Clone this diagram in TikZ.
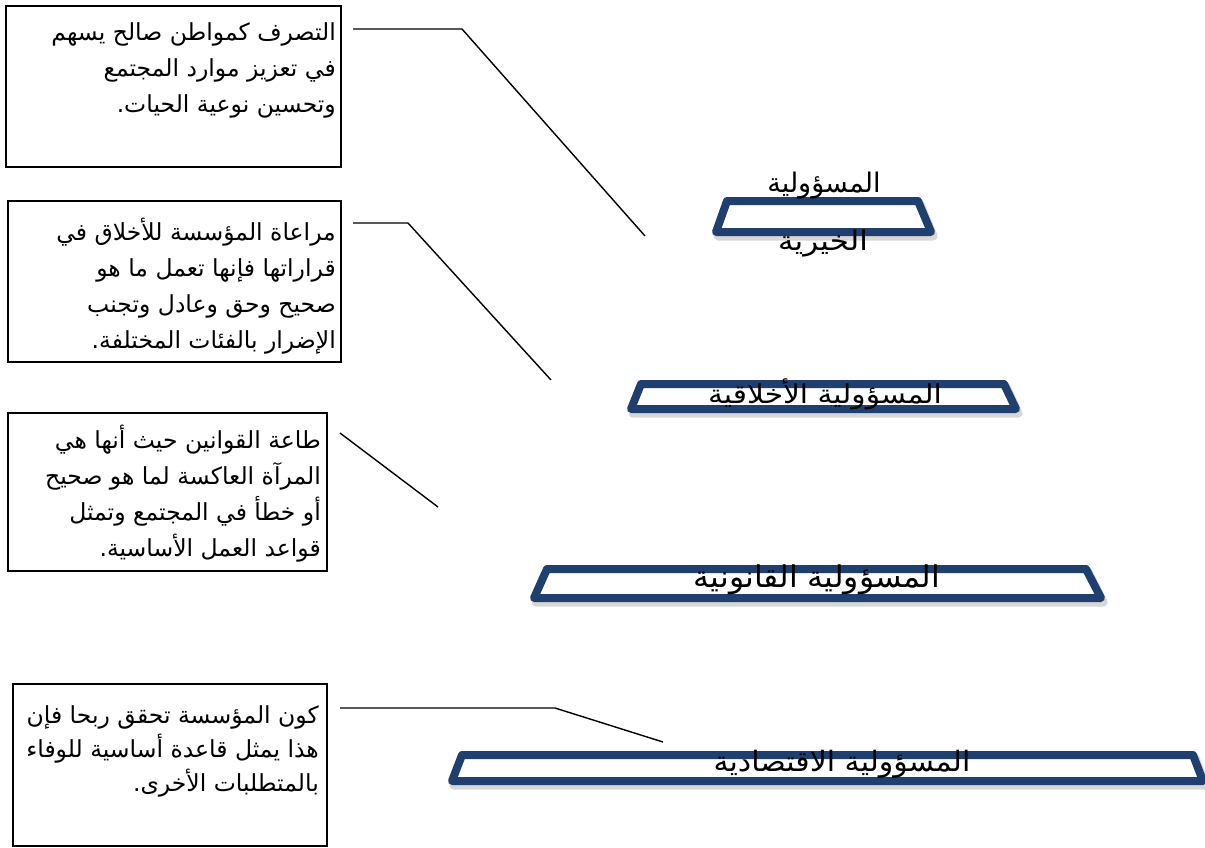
\documentclass[tikz,border=0pt]{standalone}
\usepackage{fontspec}
\TeXXeTstate=1
\newfontfamily\arabicfont[Script=Arabic]{DejaVu Sans}
\definecolor{trapblue}{HTML}{1F3F6E}
\tikzset{
  descbox/.style={draw=black, line width=1.8pt, minimum width=#1, anchor=north west, inner sep=0pt},
  desctext/.style={anchor=north east, align=right, inner sep=0pt, font=\arabicfont\fontsize{23.5}{36}\selectfont},
  lead/.style={draw=black, line width=1.4pt},
  trap/.style={draw=trapblue, line width=8pt, line join=round, fill=white},
  trapshadow/.style={draw=black!45, line width=9pt, line join=round, opacity=0.35},
  traptext/.style={font=\arabicfont\fontsize{#1}{#1}\selectfont, inner sep=0pt}
}
\begin{document}
\begin{tikzpicture}[x=1pt,y=-1pt]
\useasboundingbox (0,0) rectangle (1205,847);

% description boxes
\node[descbox=335, minimum height=161] (b1) at (5,5) {};
\node[descbox=333, minimum height=161] (b2) at (7,200) {};
\node[descbox=319, minimum height=158] (b3) at (7,412) {};
\node[descbox=314, minimum height=162] (b4) at (12,683) {};

\node[desctext] (t1) at (336,22) {\beginR التصرف كمواطن صالح يسهم\endR\\ \beginR في تعزيز موارد المجتمع\endR\\ \beginR وتحسين نوعية الحيات.\endR};
\node[desctext] (t2) at (336,218) {\beginR مراعاة المؤسسة للأخلاق في\endR\\ \beginR قراراتها فإنها تعمل ما هو\endR\\ \beginR صحيح وحق وعادل وتجنب\endR\\ \beginR الإضرار بالفئات المختلفة.\endR};
\node[desctext] (t3) at (321,425) {\beginR طاعة القوانين حيث أنها هي\endR\\ \beginR المرآة العاكسة لما هو صحيح\endR\\ \beginR أو خطأ في المجتمع وتمثل\endR\\ \beginR قواعد العمل الأساسية.\endR};
\node[desctext, font=\arabicfont\fontsize{23.5}{34}\selectfont] (t4) at (319,705) {\beginR كون المؤسسة تحقق ربحا فإن\endR\\ \beginR هذا يمثل قاعدة أساسية للوفاء\endR\\ \beginR بالمتطلبات الأخرى.\endR};

% trapezoids (shadow, then outline)
\draw[trapshadow] (729,204) -- (920,204) -- (933,236) -- (718,236) -- cycle;
\draw[trap] (727,201) -- (918,201) -- (931,232) -- (716,232) -- cycle;
\draw[trapshadow] (643,387) -- (1006,387) -- (1018,413) -- (633,413) -- cycle;
\draw[trap] (641,384) -- (1004,384) -- (1016,409) -- (631,409) -- cycle;
\draw[trapshadow] (549,572) -- (1088,572) -- (1103,602) -- (536,602) -- cycle;
\draw[trap] (547,569) -- (1086,569) -- (1101,598) -- (534,598) -- cycle;
\draw[trapshadow] (464,758) -- (1195,758) -- (1205,785) -- (454,785) -- cycle;
\draw[trap] (462,755) -- (1193,755) -- (1203,781) -- (452,781) -- cycle;

% trapezoid labels
\node[traptext=27] (l1a) at (824,186) {\arabicfont\beginR المسؤولية\endR};
\node[traptext=27] (l1b) at (823,244) {\scalebox{1.15}[1]{\arabicfont\beginR الخيرية\endR}};
\node[traptext=26] (l2) at (825,394) {\scalebox{1.14}[1]{\arabicfont\beginR المسؤولية الأخلاقية\endR}};
\node[traptext=30] (l3) at (817,580) {\scalebox{1.05}[1]{\arabicfont\beginR المسؤولية القانونية\endR}};
\node[traptext=28] (l4) at (842,764) {\scalebox{1.07}[1]{\arabicfont\beginR المسؤولية الاقتصادية\endR}};

% leader lines
\coordinate (s1) at (353,29);  \coordinate (k1) at (462,29);  \coordinate (e1) at (645,236);
\coordinate (s2) at (353,223); \coordinate (k2) at (408,223); \coordinate (e2) at (551,380);
\coordinate (s3) at (340,433); \coordinate (e3) at (438,507);
\coordinate (s4) at (340,708); \coordinate (k4) at (555,708); \coordinate (e4) at (663,742);
\draw[lead] (s1) -- (k1) -- (e1);
\draw[lead] (s2) -- (k2) -- (e2);
\draw[lead] (s3) -- (e3);
\draw[lead] (s4) -- (k4) -- (e4);
\end{tikzpicture}
\end{document}
